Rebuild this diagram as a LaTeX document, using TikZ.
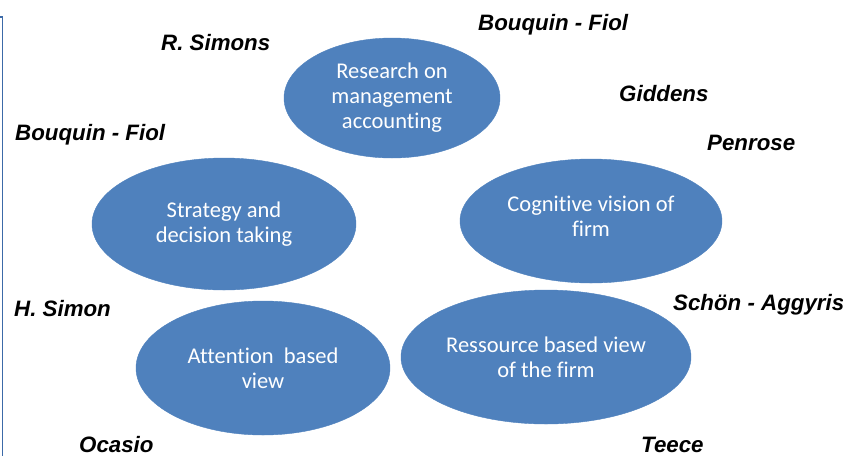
\documentclass[tikz,border=0pt]{standalone}
\usepackage{fontspec}
\setmainfont{Carlito}[Ligatures={NoCommon,NoDiscretionary,NoContextual}]
\newfontfamily\authorfont{Liberation Sans}
\usetikzlibrary{shapes.geometric}
\definecolor{bubble}{HTML}{4F81BD}
\definecolor{frameblue}{HTML}{3C6AA8}
\tikzset{
  bubble/.style={ellipse, fill=bubble, draw=bubble, inner sep=0pt, align=center,
    text=white, font=\fontsize{22.5}{25}\selectfont},
  bubbletext/.style={inner sep=0pt, align=center, text=white, font=\fontsize{22.5}{25}\selectfont},
  author/.style={anchor=base west, inner sep=0pt,
    font=\authorfont\bfseries\itshape\fontsize{22.3}{24}\selectfont}
}
\begin{document}
\begin{tikzpicture}[x=1pt,y=-1pt]
\useasboundingbox (0,0) rectangle (843,456);
\coordinate (f0) at (0,17);
\coordinate (f1) at (2.5,17);
\coordinate (f2) at (2.5,456);
\draw[frameblue, line width=1.5pt] (f0) -- (f1) -- (f2);

\node[bubble, minimum width=216, minimum height=120] (research) at (392,98) {Research on\\management\\accounting};
\node[bubble, minimum width=264, minimum height=132] (strategy) at (224,224) {Strategy and\\decision taking};
\node[bubble, minimum width=262, minimum height=124] (cognitive) at (591,221) {};
\node[bubbletext] (cognitivetext) at (591,216) {Cognitive vision of\\firm};
\node[bubble, minimum width=254, minimum height=134] (attention) at (263,368) {Attention\ \ based\\view};
\node[bubble, minimum width=290, minimum height=134] (resource) at (546,357) {Ressource based view\\of the firm};

\node[author] (rsimons) at (161,50) {R. Simons};
\node[author] (bftop) at (478,30) {Bouquin - Fiol};
\node[author] (giddens) at (619,101) {Giddens};
\node[author] (penrose) at (707,150) {Penrose};
\node[author] (bfleft) at (15,140) {Bouquin - Fiol};
\node[author] (hsimon) at (14,316) {H. Simon};
\node[author] (schon) at (673,310) {Schön - Aggyris};
\node[author] (ocasio) at (79,452) {Ocasio};
\node[author] (teece) at (641,452) {Teece};
\end{tikzpicture}
\end{document}
